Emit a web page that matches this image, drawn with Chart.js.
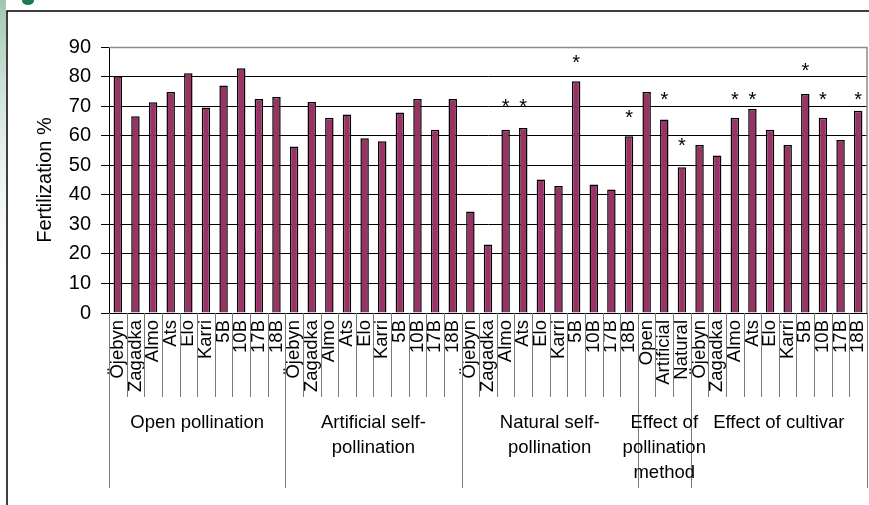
<!DOCTYPE html>
<html>
<head>
<meta charset="utf-8">
<script src="https://cdn.jsdelivr.net/npm/chart.js@4.4.1/dist/chart.umd.min.js"></script>
<style>
  html, body { margin: 0; padding: 0; background: #fff; }
  canvas { display: block; }
</style>
</head>
<body>
<canvas id="c" width="869" height="505"></canvas>
<script>
// ---- data ----
const cultivars = ["Öjebyn", "Zagadka", "Almo", "Ats", "Elo", "Karri", "5B", "10B", "17B", "18B"];
const methods = ["Open", "Artificial", "Natural"];

const openPollination = [80.1, 66.6, 71.3, 74.8, 81.1, 69.5, 77.0, 82.8, 72.4, 73.1];
const artificialSelf  = [56.3, 71.4, 66.1, 67.2, 59.1, 58.1, 67.8, 72.4, 62.0, 72.4];
const naturalSelf     = [34.3, 23.2, 62.0, 62.6, 45.2, 43.0, 78.4, 43.5, 41.8, 59.8];
const methodEffect    = [74.8, 65.5, 49.3];
const cultivarEffect  = [56.8, 53.3, 66.1, 69.0, 62.0, 56.8, 74.1, 66.1, 58.5, 68.4];

// asterisk marks (value level of the star), null = none
const starsOpen       = [null, null, null, null, null, null, null, null, null, null];
const starsArtificial = [null, null, null, null, null, null, null, null, null, null];
const starsNatural    = [null, null, 71.4, 71.4, null, null, 86.5, null, null, 68.0];
const starsMethod     = [null, 73.9, 58.4];
const starsCultivar   = [null, null, 73.9, 73.9, null, null, 83.6, 73.9, null, 73.9];

const groupNames = [
  ["Open pollination"],
  ["Artificial self-", "pollination"],
  ["Natural self-", "pollination"],
  ["Effect of", "pollination", "method"],
  ["Effect of cultivar"]
];

const yTicks = [0, 10, 20, 30, 40, 50, 60, 70, 80, 90];

// ---- build ----
const groupLabelSets = [cultivars, cultivars, cultivars, methods, cultivars];
const labels = [].concat(...groupLabelSets);
const values = [].concat(openPollination, artificialSelf, naturalSelf, methodEffect, cultivarEffect);
const stars = [].concat(starsOpen, starsArtificial, starsNatural, starsMethod, starsCultivar);
const groupSizes = groupLabelSets.map(g => g.length);

const FONT = "'Liberation Sans', Arial, Helvetica, sans-serif";

const deco = {
  id: 'deco',
  beforeDraw(chart) {
    const { ctx, width, height } = chart;
    ctx.save();
    ctx.fillStyle = '#fff';
    ctx.fillRect(0, 0, width, height);
    const g = ctx.createLinearGradient(0, 0, 0, 320);
    g.addColorStop(0, '#9fc7b2');
    g.addColorStop(1, 'rgba(255,255,255,0)');
    ctx.fillStyle = g;
    ctx.fillRect(0, 0, 6, 320);
    ctx.fillStyle = '#1f7a52';
    ctx.beginPath();
    ctx.ellipse(28, 1, 6, 4, 0, 0, Math.PI * 2);
    ctx.fill();
    ctx.strokeStyle = '#000';
    ctx.lineWidth = 1.5;
    ctx.beginPath();
    ctx.moveTo(7, height);
    ctx.lineTo(7, 11);
    ctx.lineTo(width, 11);
    ctx.stroke();
    ctx.restore();
  },
  afterDraw(chart) {
    const { ctx, chartArea: a } = chart;
    const xs = chart.scales.x;
    const ys = chart.scales.y;
    ctx.save();
    // plot area border (top, right)
    ctx.strokeStyle = '#8c8c8c';
    ctx.lineWidth = 1.5;
    ctx.beginPath();
    ctx.moveTo(a.left, a.top + 0.5);
    ctx.lineTo(a.right, a.top + 0.5);
    ctx.lineTo(a.right, a.bottom);
    ctx.stroke();

    // category separators and group separators
    const groupBounds = [0];
    groupSizes.forEach(s => groupBounds.push(groupBounds[groupBounds.length - 1] + s));
    ctx.strokeStyle = '#7a7a7a';
    ctx.lineWidth = 1;
    for (let i = 0; i <= labels.length; i++) {
      const x = Math.round(xs.getPixelForValue(i - 0.5)) + 0.5;
      const isGroup = groupBounds.includes(i);
      ctx.beginPath();
      ctx.moveTo(x, a.bottom);
      ctx.lineTo(x, isGroup ? a.bottom + 175 : a.bottom + 84);
      ctx.stroke();
    }

    // group labels
    ctx.fillStyle = '#000';
    ctx.font = '18.5px ' + FONT;
    ctx.textAlign = 'center';
    ctx.textBaseline = 'middle';
    for (let gi = 0; gi < groupNames.length; gi++) {
      const x0 = xs.getPixelForValue(groupBounds[gi] - 0.5);
      const x1 = xs.getPixelForValue(groupBounds[gi + 1] - 0.5);
      const cx = (x0 + x1) / 2;
      groupNames[gi].forEach((line, li) => {
        ctx.fillText(line, cx, a.bottom + 110 + li * 25);
      });
    }

    // asterisks
    ctx.font = '20px ' + FONT;
    ctx.textBaseline = 'alphabetic';
    stars.forEach((s, i) => {
      if (s === null) return;
      const x = xs.getPixelForValue(i);
      const y = ys.getPixelForValue(s);
      ctx.fillText('*', x, y + 11.5);
    });
    ctx.restore();
  }
};

new Chart(document.getElementById('c'), {
  type: 'bar',
  data: {
    labels: labels,
    datasets: [{
      data: values,
      backgroundColor: '#993366',
      borderColor: '#000',
      borderWidth: 1.5,
      categoryPercentage: 1,
      barPercentage: 0.48
    }]
  },
  options: {
    responsive: false,
    animation: false,
    devicePixelRatio: 1,
    layout: { padding: { top: 47, right: 2, left: 0, bottom: 0 } },
    plugins: { legend: { display: false }, tooltip: { enabled: false } },
    scales: {
      x: {
        type: 'category',
        offset: true,
        grid: { display: false, drawTicks: false },
        border: { display: true, color: '#000', width: 1 },
        ticks: {
          autoSkip: false,
          maxRotation: 90,
          minRotation: 90,
          padding: 7,
          color: '#000',
          font: { family: FONT, size: 18.5 }
        },
        afterFit(scale) {
          scale.height = 192;
          scale.paddingLeft = 0;
          scale.paddingRight = 0;
        }
      },
      y: {
        min: 0,
        max: 90,
        afterBuildTicks(scale) { scale.ticks = yTicks.map(v => ({ value: v })); },
        grid: { color: '#000', lineWidth: 1, tickLength: 8, drawTicks: true },
        border: { display: true, color: '#000', width: 1 },
        ticks: {
          padding: 10,
          color: '#000',
          font: { family: FONT, size: 20 }
        },
        title: {
          display: true,
          text: 'Fertilization %',
          color: '#000',
          font: { family: FONT, size: 20 },
          padding: { top: 33, bottom: 0 }
        },
        afterFit(scale) {
          scale.width = 109;
          scale.paddingTop = 0;
          scale.paddingBottom = 0;
        }
      }
    }
  },
  plugins: [deco]
});
</script>
</body>
</html>
